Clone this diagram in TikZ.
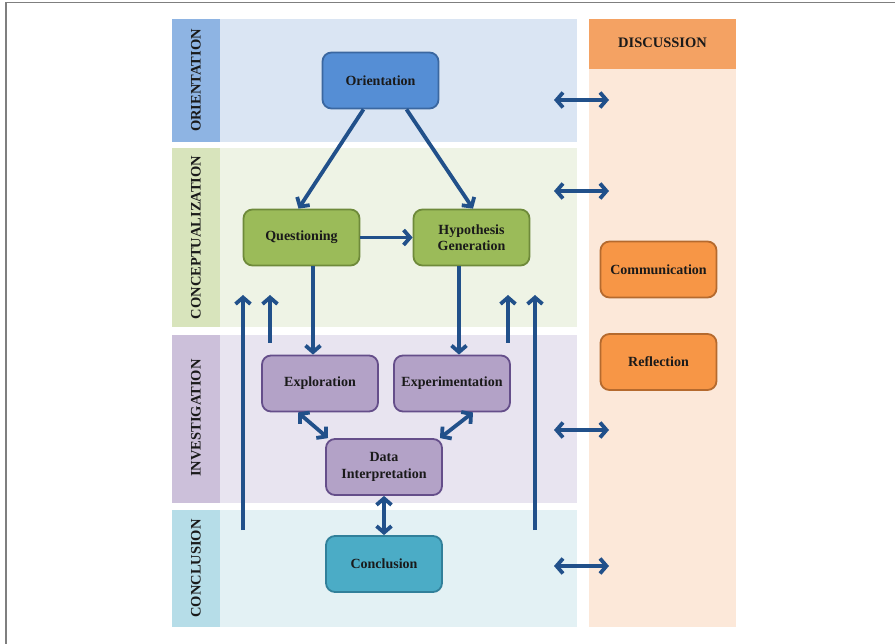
\documentclass[tikz,border=0pt]{standalone}
\usepackage{fontspec}
\setmainfont{Liberation Serif}
\usetikzlibrary{arrows.meta,calc}

% lane colours
\definecolor{framegray}{HTML}{7F7F7F}
\definecolor{oriStrip}{HTML}{8EB4E3}
\definecolor{oriBody}{HTML}{DAE5F3}
\definecolor{conStrip}{HTML}{D8E4BC}
\definecolor{conBody}{HTML}{EEF3E5}
\definecolor{invStrip}{HTML}{CCC0DA}
\definecolor{invBody}{HTML}{E8E4F0}
\definecolor{cloStrip}{HTML}{B6DDE8}
\definecolor{cloBody}{HTML}{E3F1F4}
\definecolor{disHead}{HTML}{F4A263}
\definecolor{disBody}{HTML}{FCE8D9}
% box colours
\definecolor{blueFill}{HTML}{558ED5}
\definecolor{blueLine}{HTML}{3B67A0}
\definecolor{greenFill}{HTML}{9BBB59}
\definecolor{greenLine}{HTML}{6E8A3A}
\definecolor{purpleFill}{HTML}{B3A2C7}
\definecolor{purpleLine}{HTML}{654E8A}
\definecolor{tealFill}{HTML}{4BACC6}
\definecolor{tealLine}{HTML}{31809A}
\definecolor{orangeFill}{HTML}{F79646}
\definecolor{orangeLine}{HTML}{B56A2E}
\definecolor{arrowblue}{HTML}{21508A}
\definecolor{textdark}{HTML}{1A1A1A}

\tikzset{
  stepbox/.style={rounded corners=9pt, line width=1.8pt,
    minimum width=116pt, minimum height=56pt, align=center,
    text=textdark, font=\bfseries\fontsize{14}{16.5}\selectfont},
  lanelabel/.style={rotate=90, text=textdark,
    font=\bfseries\fontsize{14.5}{16}\selectfont},
  tip/.tip={Straight Barb[length=6.5pt,width=15pt]},
  flow/.style={draw=arrowblue, line width=3.8pt, -tip},
  twoway/.style={draw=arrowblue, line width=3.8pt, tip-tip},
}

\begin{document}
\begin{tikzpicture}[x=1pt,y=-1pt]
\useasboundingbox (0,0) rectangle (895,644);
\draw[framegray, line width=1.3pt] (6,644) -- (6,2.5) -- (895,2.5);

% phase lanes
\fill[oriStrip] (172,19) rectangle (220,142);
\fill[oriBody]  (220,19) rectangle (577,142);
\fill[conStrip] (172,148) rectangle (220,327);
\fill[conBody]  (220,148) rectangle (577,327);
\fill[invStrip] (172,335) rectangle (220,503);
\fill[invBody]  (220,335) rectangle (577,503);
\fill[cloStrip] (172,510) rectangle (220,627);
\fill[cloBody]  (220,510) rectangle (577,627);

% discussion column
\fill[disHead] (589,19) rectangle (736,69);
\fill[disBody] (589,69) rectangle (736,627);

% lane titles
\node[lanelabel] (tOri) at (196,80.5) {ORIENTATION};
\node[lanelabel] (tCon) at (196,237.5) {CONCEPTUALIZATION};
\node[lanelabel] (tInv) at (196,418) {INVESTIGATION};
\node[lanelabel] (tClo) at (196,568.5) {CONCLUSION};
\node[text=textdark, font=\bfseries\fontsize{14.5}{16}\selectfont] (tDis) at (662.5,43) {DISCUSSION};

% phase boxes
\node[stepbox, fill=blueFill, draw=blueLine] (ori) at (380.5,80.5) {Orientation};
\node[stepbox, fill=greenFill, draw=greenLine] (que) at (301.5,237.5) {Questioning};
\node[stepbox, fill=greenFill, draw=greenLine] (hyp) at (471.5,237.5) {Hypothesis\\Generation};
\node[stepbox, fill=purpleFill, draw=purpleLine] (exo) at (320,383.5) {Exploration};
\node[stepbox, fill=purpleFill, draw=purpleLine] (exe) at (452,383.5) {Experimentation};
\node[stepbox, fill=purpleFill, draw=purpleLine] (dat) at (384,467) {Data\\Interpretation};
\node[stepbox, fill=tealFill, draw=tealLine] (clo) at (384,564) {Conclusion};
\node[stepbox, fill=orangeFill, draw=orangeLine] (com) at (658.5,269.5) {Communication};
\node[stepbox, fill=orangeFill, draw=orangeLine] (ref) at (658.5,362) {Reflection};

% main flow
\draw[flow] ([xshift=-17pt]ori.south) -- ([xshift=-3pt]que.north);
\draw[flow] ([xshift=26pt]ori.south) -- ([xshift=1.5pt]hyp.north);
\draw[flow] (que.east) -- (hyp.west);
\draw[flow] ([xshift=11.5pt]que.south) -- ([xshift=-7pt]exo.north);
\draw[flow] ([xshift=-12.5pt]hyp.south) -- ([xshift=7pt]exe.north);
\draw[twoway] ([xshift=-22pt]exo.south) -- ([xshift=-56pt]dat.north);
\draw[twoway] ([xshift=21pt]exe.south) -- ([xshift=56pt]dat.north);
\draw[twoway] (dat.south) -- (clo.north);

% feedback arrows back to conceptualization
\coordinate (fbA0) at (243,530); \coordinate (fbA1) at (243,295);
\coordinate (fbB0) at (270,343); \coordinate (fbB1) at (270,295);
\coordinate (fbC0) at (508,343); \coordinate (fbC1) at (508,295);
\coordinate (fbD0) at (535,530); \coordinate (fbD1) at (535,295);
\draw[flow] (fbA0) -- (fbA1);
\draw[flow] (fbB0) -- (fbB1);
\draw[flow] (fbC0) -- (fbC1);
\draw[flow] (fbD0) -- (fbD1);

% links between each phase and the discussion
\foreach \y/\n in {100/a,191/b,430/c,566/d}{
  \coordinate (dl\n) at (554,\y);
  \coordinate (dr\n) at (609,\y);
  \draw[twoway] (dl\n) -- (dr\n);
}
\end{tikzpicture}
\end{document}
